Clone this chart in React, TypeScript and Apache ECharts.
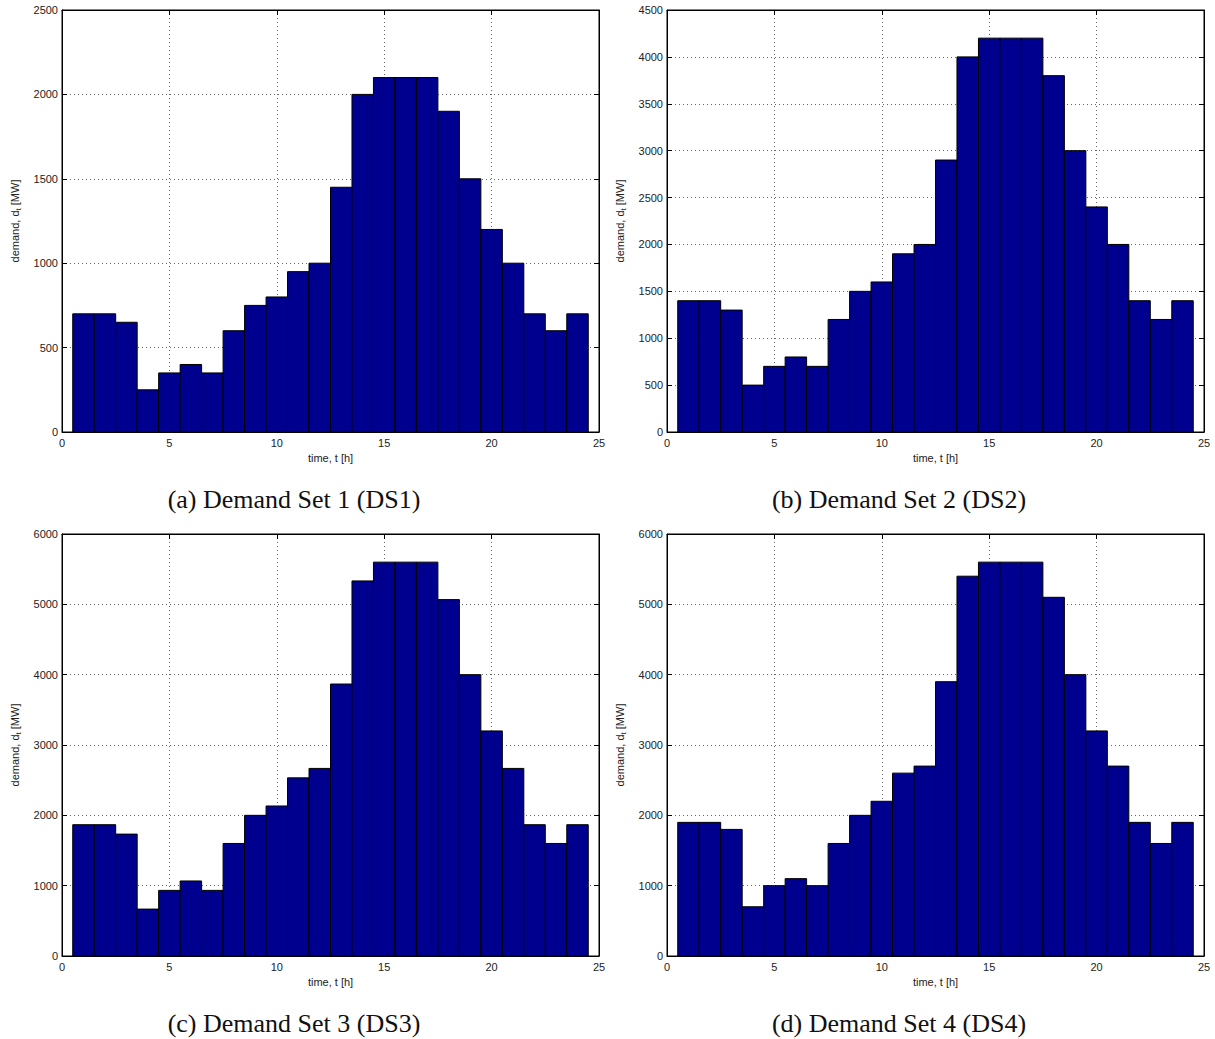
import React, { useEffect, useRef } from "react";
import * as echarts from "echarts";

// Hourly demand profiles (MW), hours 1..24
const hours = [1, 2, 3, 4, 5, 6, 7, 8, 9, 10, 11, 12, 13, 14, 15, 16, 17, 18, 19, 20, 21, 22, 23, 24];
const demandDS1 = [700, 700, 650, 250, 350, 400, 350, 600, 750, 800, 950, 1000, 1450, 2000, 2100, 2100, 2100, 1900, 1500, 1200, 1000, 700, 600, 700];
const demandDS2 = [1400, 1400, 1300, 500, 700, 800, 700, 1200, 1500, 1600, 1900, 2000, 2900, 4000, 4200, 4200, 4200, 3800, 3000, 2400, 2000, 1400, 1200, 1400];
const demandDS3 = [1867, 1867, 1733, 667, 933, 1067, 933, 1600, 2000, 2133, 2533, 2667, 3867, 5333, 5600, 5600, 5600, 5067, 4000, 3200, 2667, 1867, 1600, 1867];
const demandDS4 = [1900, 1900, 1800, 700, 1000, 1100, 1000, 1600, 2000, 2200, 2600, 2700, 3900, 5400, 5600, 5600, 5600, 5100, 4000, 3200, 2700, 1900, 1600, 1900];

const captions = ["(a) Demand Set 1 (DS1)", "(b) Demand Set 2 (DS2)", "(c) Demand Set 3 (DS3)", "(d) Demand Set 4 (DS4)"];
const yMaxes = [2500, 4500, 6000, 6000];
const yIntervals = [500, 500, 1000, 1000];
const datasets = [demandDS1, demandDS2, demandDS3, demandDS4];

const BAR_COLOR = "#00008f";
const SANS = '"Liberation Sans", Arial, sans-serif';
const plain = (v: number) => String(v);

export default function App() {
  const ref = useRef<HTMLDivElement>(null);

  useEffect(() => {
    if (!ref.current) return;
    const chart = echarts.init(ref.current, null, { renderer: "svg" });

    const panelLeft = [62, 667, 62, 667];
    const panelTop = [10, 10, 534, 534];
    const W = 537;
    const H = 422;

    const grids: any[] = [];
    const xAxes: any[] = [];
    const yAxes: any[] = [];
    const series: any[] = [];
    const graphics: any[] = [];

    const gridLine = { show: true, lineStyle: { color: "#666", type: [1, 3], width: 1 } };
    const tickStyle = { show: true, inside: true, length: 5, lineStyle: { color: "#000", width: 1 } };
    const labelStyle = { color: "#222", fontSize: 11, fontFamily: SANS, formatter: plain };

    for (let i = 0; i < 4; i++) {
      grids.push({
        left: panelLeft[i],
        top: panelTop[i],
        width: W,
        height: H,
        show: true,
        borderColor: "#000",
        borderWidth: 1,
        backgroundColor: "#fff",
      });
      // bottom axis
      xAxes.push({
        type: "value",
        gridIndex: i,
        min: 0,
        max: 25,
        interval: 5,
        position: "bottom",
        axisLine: { show: true, onZero: false, lineStyle: { color: "#000", width: 1 } },
        axisTick: tickStyle,
        axisLabel: { ...labelStyle, margin: 5 },
        splitLine: gridLine,
        name: "time, t [h]",
        nameLocation: "middle",
        nameGap: 20,
        nameTextStyle: { color: "#222", fontSize: 11, fontFamily: SANS },
      });
      // top axis (ticks only)
      xAxes.push({
        type: "value",
        gridIndex: i,
        min: 0,
        max: 25,
        interval: 5,
        position: "top",
        axisLine: { show: true, onZero: false, lineStyle: { color: "#000", width: 1 } },
        axisTick: tickStyle,
        axisLabel: { show: false },
        splitLine: { show: false },
      });
      // left axis
      yAxes.push({
        type: "value",
        gridIndex: i,
        min: 0,
        max: yMaxes[i],
        interval: yIntervals[i],
        position: "left",
        axisLine: { show: true, onZero: false, lineStyle: { color: "#000", width: 1 } },
        axisTick: tickStyle,
        axisLabel: { ...labelStyle, margin: 4 },
        splitLine: gridLine,
        name: "demand, d{sub|t} [MW]",
        nameLocation: "middle",
        nameRotate: 90,
        nameGap: 40,
        nameTextStyle: {
          color: "#222",
          fontSize: 11,
          fontFamily: SANS,
          rich: {
            sub: { fontSize: 8, fontFamily: SANS, color: "#222", verticalAlign: "bottom", padding: [6, 0, 0, 0] },
          },
        },
      });
      // right axis (ticks only)
      yAxes.push({
        type: "value",
        gridIndex: i,
        min: 0,
        max: yMaxes[i],
        interval: yIntervals[i],
        position: "right",
        axisLine: { show: true, onZero: false, lineStyle: { color: "#000", width: 1 } },
        axisTick: tickStyle,
        axisLabel: { show: false },
        splitLine: { show: false },
      });

      const data = hours.map((h, k) => [h, datasets[i][k]]);
      series.push({
        type: "custom",
        xAxisIndex: i * 2,
        yAxisIndex: i * 2,
        encode: { x: 0, y: 1 },
        data,
        renderItem: (params: any, api: any) => {
          const x = api.value(0);
          const y = api.value(1);
          const p0 = api.coord([x - 0.5, 0]);
          const p1 = api.coord([x + 0.5, y]);
          return {
            type: "rect",
            shape: { x: p0[0], y: p1[1], width: p1[0] - p0[0], height: p0[1] - p1[1] },
            style: { fill: BAR_COLOR, stroke: "#000", lineWidth: 1 },
          };
        },
      });

      graphics.push({
        type: "text",
        x: i % 2 === 0 ? 294 : 899,
        y: i < 2 ? 499 : 1023,
        style: {
          text: captions[i],
          fill: "#111",
          fontSize: 26,
          fontFamily: '"Liberation Serif", "DejaVu Serif", serif',
          align: "center",
          verticalAlign: "middle",
        },
      });
    }

    chart.setOption({
      animation: false,
      backgroundColor: "#fff",
      grid: grids,
      xAxis: xAxes,
      yAxis: yAxes,
      series,
      graphic: graphics,
    });

    return () => chart.dispose();
  }, []);

  return (
    <div
      ref={ref}
      style={{ position: "absolute", left: 0, top: 0, width: 1215, height: 1039, background: "#fff" }}
    />
  );
}
